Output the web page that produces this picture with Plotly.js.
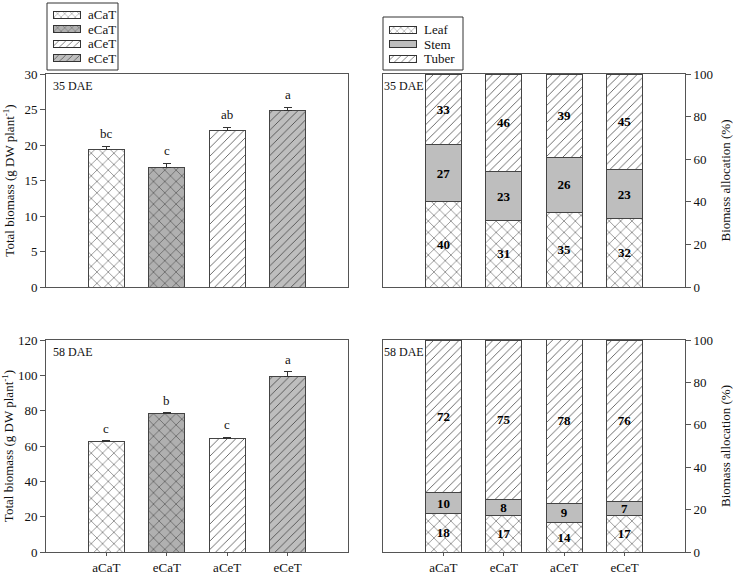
<!DOCTYPE html>
<html>
<head>
<meta charset="utf-8">
<script src="https://cdn.plot.ly/plotly-3.0.1.min.js"></script>
<style>html,body{margin:0;padding:0;background:#fff}#chart{width:733px;height:576px}</style>
</head>
<body>
<div id="chart"></div>
<script>
// ---- data ----
const treatments = ["aCaT", "eCaT", "aCeT", "eCeT"];
const biomass35 = [19.4, 16.9, 22.1, 24.9];
const err35 = [0.4, 0.55, 0.4, 0.4];
const letters35 = ["bc", "c", "ab", "a"];
const biomass58 = [62.3, 78.4, 64.0, 99.2];
const err58 = [0.7, 0.5, 0.9, 2.8];
const letters58 = ["c", "b", "c", "a"];
const organs = ["Leaf", "Stem", "Tuber"];
const leaf35 = [40, 31, 35, 32];
const stem35 = [27, 23, 26, 23];
const tuber35 = [33, 46, 39, 45];
const leaf58 = [18, 17, 14, 17];
const stem58 = [10, 8, 9, 7];
const tuber58 = [72, 75, 78, 76];

// ---- styles ----
const FONT = "Liberation Serif, Times New Roman, serif";
const GRAY = "#bebebe";
const treatStyle = [
  {shape: "x", bg: "#ffffff", size: 8},
  {shape: "x", bg: "#b0b0b0", size: 8},
  {shape: "/", bg: "#ffffff", size: 6},
  {shape: "/", bg: GRAY, size: 6}
];
const organStyle = [
  {shape: "x", bg: "#ffffff", size: 8},
  {shape: "", bg: GRAY, size: 8},
  {shape: "/", bg: "#ffffff", size: 6}
];
function pat(st, sizeOverride) {
  if (!st.shape) return {shape: ""};
  return {shape: st.shape, fillmode: "replace", bgcolor: st.bg, fgcolor: "#333",
          size: sizeOverride || st.size, solidity: 0.12};
}

const traces = [];
function totalTraces(vals, errs, xa, ya) {
  treatments.forEach((t, i) => {
    const st = treatStyle[i];
    traces.push({
      type: "bar", x: [t], y: [vals[i]], name: t, xaxis: xa, yaxis: ya,
      width: 0.6, showlegend: false,
      marker: {color: st.bg, line: {color: "#444", width: 1}, pattern: pat(st)},
      error_y: {type: "data", array: [errs[i]], arrayminus: [0], symmetric: false, color: "#333", thickness: 1, width: 4},
      hoverinfo: "skip"
    });
  });
}
function allocTraces(parts, xa, ya) {
  parts.forEach((vals, k) => {
    const st = organStyle[k];
    traces.push({
      type: "bar", x: treatments, y: vals, name: organs[k], xaxis: xa, yaxis: ya,
      width: 0.6, showlegend: false,
      text: vals.map(String), textposition: "inside", insidetextanchor: "middle", textangle: 0,
      constraintext: "none",
      textfont: {family: FONT, size: 13, color: "#000", weight: "bold"},
      marker: {color: st.bg, line: {color: "#444", width: 1}, pattern: pat(st)},
      hoverinfo: "skip"
    });
  });
}
totalTraces(biomass35, err35, "x", "y");
totalTraces(biomass58, err58, "x3", "y3");
allocTraces([leaf35, stem35, tuber35], "x2", "y2");
allocTraces([leaf58, stem58, tuber58], "x4", "y4");

// ---- custom legends (swatches drawn as tiny horizontal bars on hidden axes) ----
const SW_BASE = 6, SW_LEN = 27, SW_THICK = 0.49;
function legendSwatches(names, styles, xa, ya) {
  names.forEach((n, i) => {
    const st = styles[i];
    traces.push({
      type: "bar", orientation: "h", y: [n], x: [SW_LEN], base: SW_BASE,
      xaxis: xa, yaxis: ya, width: SW_THICK, showlegend: false, hoverinfo: "skip",
      marker: {color: st.bg, line: {color: "#333", width: 1}, pattern: pat(st, 5)}
    });
  });
}
legendSwatches(treatments, treatStyle, "x5", "y5");
legendSwatches(organs, organStyle, "x6", "y6");

const W = 733, H = 576;
const px = v => v / W, py = v => 1 - v / H;
const xL = [px(46), px(348)], xR = [px(383), px(685)];
const yT = [py(287), py(74)], yB = [py(552), py(340)];

function xax(domain, anchor, showLabels) {
  return {
    domain: domain, anchor: anchor, type: "category", range: [-1, 4],
    showline: true, mirror: true, linecolor: "#555", linewidth: 1,
    showgrid: false, zeroline: false, fixedrange: true,
    ticks: showLabels ? "outside" : "", ticklen: 3, tickcolor: "#555",
    showticklabels: showLabels,
    tickfont: {family: FONT, size: 13, color: "#111"}
  };
}
function yax(domain, anchor, range, dtick, side, title, standoff) {
  return {
    domain: domain, anchor: anchor, range: range, dtick: dtick, side: side,
    showline: true, mirror: true, linecolor: "#555", linewidth: 1,
    showgrid: false, zeroline: false, fixedrange: true,
    ticks: "outside", ticklen: 5, tickcolor: "#555",
    tickfont: {family: FONT, size: 13, color: "#111"},
    title: {text: title, font: {family: FONT, size: 13, color: "#111"}, standoff: standoff}
  };
}
function hiddenAx(domain, anchor, range, isCat) {
  const a = {domain: domain, anchor: anchor, range: range, visible: false, fixedrange: true,
             showgrid: false, zeroline: false};
  if (isCat) a.type = "category";
  return a;
}
const titleL = "Total biomass (g DW plant<sup>-1</sup>)";
const titleR = "Biomass allocation (%)";

const annotations = [];
function letterAnn(vals, errs, letters, xa, ya) {
  treatments.forEach((t, i) => {
    annotations.push({
      x: t, y: vals[i] + errs[i], xref: xa, yref: ya, text: letters[i],
      showarrow: false, yanchor: "bottom", yshift: 3,
      font: {family: FONT, size: 13, color: "#111"}
    });
  });
}
letterAnn(biomass35, err35, letters35, "x", "y");
letterAnn(biomass58, err58, letters58, "x3", "y3");
[["x", "y", "35 DAE", 0.015], ["x2", "y2", "35 DAE", -0.004], ["x3", "y3", "58 DAE", 0.015], ["x4", "y4", "58 DAE", -0.004]].forEach(a => {
  annotations.push({
    xref: a[0] + " domain", yref: a[1] + " domain", x: a[3], y: 0.985,
    xanchor: "left", yanchor: "top", text: a[2], showarrow: false,
    font: {family: FONT, size: 12, color: "#111"}
  });
});
function legendLabels(names, xa, ya) {
  names.forEach(n => {
    annotations.push({
      x: SW_BASE + SW_LEN + 6, y: n, xref: xa, yref: ya, text: n, showarrow: false,
      xanchor: "left", yanchor: "middle", font: {family: FONT, size: 13, color: "#111"}
    });
  });
}
legendLabels(treatments, "x5", "y5");
legendLabels(organs, "x6", "y6");

const shapes = [
  {type: "rect", xref: "x5 domain", yref: "y5 domain", x0: 0, x1: 1, y0: 0, y1: 1, line: {color: "#333", width: 1}},
  {type: "rect", xref: "x6 domain", yref: "y6 domain", x0: 0, x1: 1, y0: 0, y1: 1, line: {color: "#333", width: 1}}
];

const layout = {
  width: W, height: H,
  margin: {l: 0, r: 0, t: 0, b: 0},
  paper_bgcolor: "#fff", plot_bgcolor: "#fff",
  barmode: "stack",
  showlegend: false,
  xaxis: xax(xL, "y", false),
  yaxis: yax(yT, "x", [0, 30], 5, "left", titleL, 6),
  xaxis2: xax(xR, "y2", false),
  yaxis2: yax(yT, "x2", [0, 100], 20, "right", titleR, 14),
  xaxis3: xax(xL, "y3", true),
  yaxis3: yax(yB, "x3", [0, 120], 20, "left", titleL, 6),
  xaxis4: xax(xR, "y4", true),
  yaxis4: yax(yB, "x4", [0, 100], 20, "right", titleR, 14),
  xaxis5: hiddenAx([px(47), px(118)], "y5", [0, 71], false),
  yaxis5: hiddenAx([py(70), py(3)], "x5", [3.82, -0.83], true),
  xaxis6: hiddenAx([px(383), px(463)], "y6", [0, 80], false),
  yaxis6: hiddenAx([py(70), py(17)], "x6", [2.78, -0.9], true),
  annotations: annotations,
  shapes: shapes,
  font: {family: FONT}
};

Plotly.newPlot("chart", traces, layout, {displayModeBar: false, staticPlot: true});
</script>
</body>
</html>
